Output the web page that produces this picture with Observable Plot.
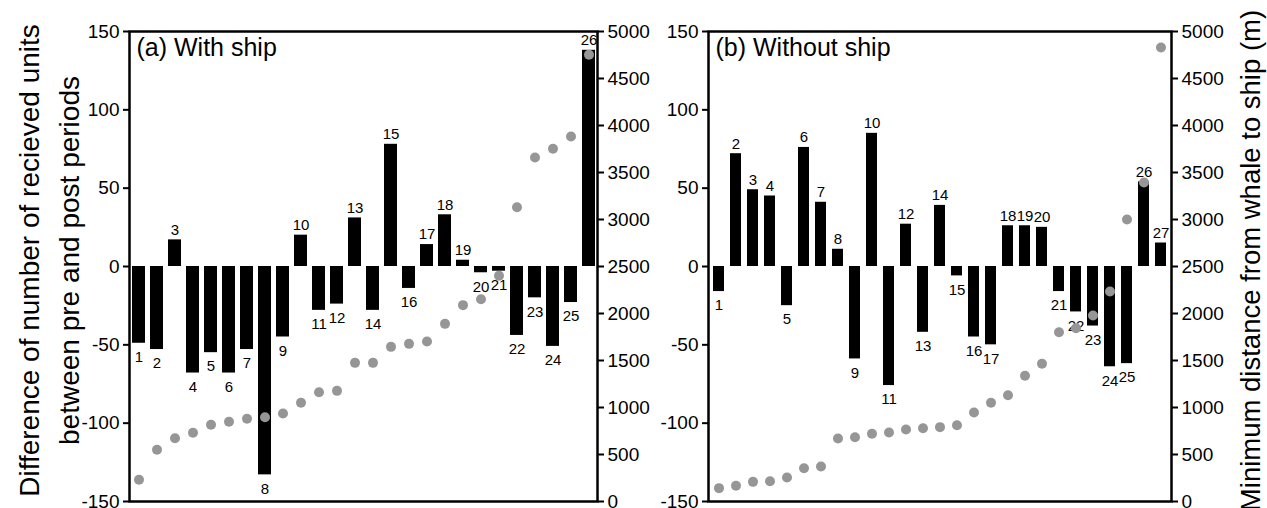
<!DOCTYPE html>
<html>
<head>
<meta charset="utf-8">
<script src="https://cdn.jsdelivr.net/npm/d3@7"></script>
<script src="https://cdn.jsdelivr.net/npm/@observablehq/plot@0.6"></script>
<style>
  html, body { margin: 0; padding: 0; background: #fff; }
  #wrap { position: relative; width: 1267px; height: 508px; overflow: hidden; }
  #wrap svg { position: absolute; left: 0; top: 0; overflow: visible; }
</style>
</head>
<body>
<div id="wrap"></div>
<script>
// ---- data ----
const idsA = [1,2,3,4,5,6,7,8,9,10,11,12,13,14,15,16,17,18,19,20,21,22,23,24,25,26];
const unitsA = [-49,-53,17,-68,-55,-68,-53,-133,-45,20,-28,-24,31,-28,78,-14,14,33,4,-4,-3,-44,-20,-51,-23,138];
const distA = [231,550,673,731,816,848,880,897,936,1050,1163,1177,1475,1475,1645,1677,1702,1890,2089,2152,2401,3131,3660,3752,3883,4752];

const idsB = [1,2,3,4,5,6,7,8,9,10,11,12,13,14,15,16,17,18,19,20,21,22,23,24,25,26,27];
const unitsB = [-16,72,49,45,-25,76,41,11,-59,85,-76,27,-42,39,-6,-45,-50,26,26,25,-16,-29,-38,-64,-62,54,15];
const distB = [142,167,209,216,255,354,372,670,684,720,734,766,780,791,812,947,1050,1131,1337,1465,1801,1844,1979,2234,3000,3394,4830];

const leftTicks = [-150,-100,-50,0,50,100,150];
const rightTicks = [0,500,1000,1500,2000,2500,3000,3500,4000,4500,5000];

const titleA = "(a) With ship";
const titleB = "(b) Without ship";
const leftAxisTitle = "Difference of number of recieved units\nbetween pre and post periods";
const rightAxisTitle = "Minimum distance from whale to ship (m)";

// ---- layout ----
const W = 1267, H = 508;
const font = "'Liberation Sans', Arial, Helvetica, sans-serif";
const wrap = document.getElementById("wrap");

function panel({ids, units, dist, left, right, pad, title, leftTitle, rightTitle}) {
  const bars = ids.map((id, i) => ({id, v: units[i]}));
  const pts = ids.map((id, i) => ({id, d: dist[i]}));
  const common = {
    width: W, height: H,
    marginLeft: left, marginRight: W - right, marginTop: 31, marginBottom: 7,
    style: {fontFamily: font, fontSize: "19px", color: "#000", background: "transparent", overflow: "visible"},
    x: {type: "band", domain: ids, paddingInner: pad, paddingOuter: pad / 2, axis: null}
  };
  const barPlot = Plot.plot({
    ...common,
    y: {domain: [-150, 150], axis: null},
    marks: [
      Plot.barY(bars, {x: "id", y: "v", fill: "#000"}),
      Plot.text(bars.filter(d => d.v >= 0), {x: "id", y: "v", text: d => String(d.id), dy: -10, fontSize: 15, fill: "#000"}),
      Plot.text(bars.filter(d => d.v < 0), {x: "id", y: "v", text: d => String(d.id), dy: 14, fontSize: 15, fill: "#000"}),
      Plot.axisY(leftTicks, {anchor: "left", tickSize: 6, tickPadding: 4, strokeWidth: 2, label: null, fontSize: 19, tickFormat: d => String(d)}),
      Plot.frame({stroke: "#000", strokeWidth: 2.5}),
      Plot.text([title], {frameAnchor: "top-left", text: d => d, dx: 7, dy: 7, lineAnchor: "top", textAnchor: "start", fontSize: 25, fill: "#000"}),
      leftTitle ? Plot.text([leftTitle], {frameAnchor: "left", text: d => d, rotate: -90, dx: -83, dy: -6, textAnchor: "middle", lineAnchor: "middle", fontSize: 28, lineHeight: 1.42, fill: "#000"}) : null
    ]
  });
  const dotPlot = Plot.plot({
    ...common,
    y: {domain: [0, 5000], axis: null},
    marks: [
      Plot.dot(pts, {x: "id", y: "d", r: 5, fill: "#969696", stroke: "none"}),
      Plot.axisY(rightTicks, {anchor: "right", tickSize: 6, tickPadding: 4, strokeWidth: 2, label: null, fontSize: 19, tickFormat: d => String(d)}),
      rightTitle ? Plot.text([rightTitle], {frameAnchor: "right", text: d => d, rotate: -90, dx: 80, dy: -6, textAnchor: "middle", lineAnchor: "middle", fontSize: 27.5, fill: "#000"}) : null
    ]
  });
  wrap.appendChild(barPlot);
  wrap.appendChild(dotPlot);
}

panel({ids: idsA, units: unitsA, dist: distA, left: 129, right: 597, pad: 0.3, title: titleA, leftTitle: leftAxisTitle, rightTitle: null});
panel({ids: idsB, units: unitsB, dist: distB, left: 708, right: 1171, pad: 0.38, title: titleB, leftTitle: null, rightTitle: rightAxisTitle});
</script>
</body>
</html>
